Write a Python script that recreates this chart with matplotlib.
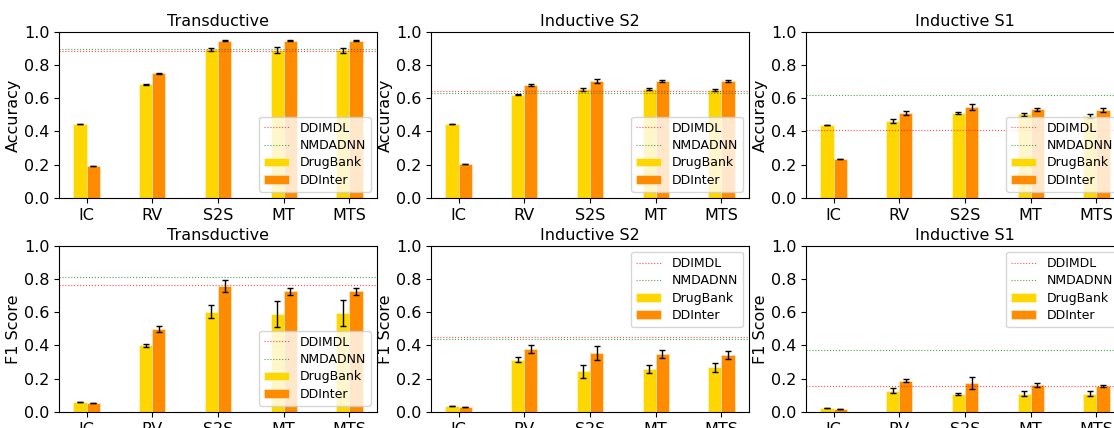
import numpy as np
import matplotlib
matplotlib.use("Agg")
import matplotlib.pyplot as plt

# categories and settings
methods = ["IC", "RV", "S2S", "MT", "MTS"]
settings = ["Transductive", "Inductive S2", "Inductive S1"]

# accuracy (mean, std) per setting
acc_drugbank = [
    [0.446, 0.684, 0.894, 0.889, 0.889],
    [0.444, 0.622, 0.654, 0.656, 0.650],
    [0.436, 0.462, 0.514, 0.504, 0.492],
]
acc_drugbank_err = [
    [0.0, 0.002, 0.008, 0.016, 0.015],
    [0.0, 0.005, 0.008, 0.007, 0.007],
    [0.0, 0.012, 0.006, 0.010, 0.012],
]
acc_ddinter = [
    [0.194, 0.750, 0.946, 0.946, 0.946],
    [0.206, 0.678, 0.704, 0.704, 0.704],
    [0.236, 0.514, 0.548, 0.534, 0.530],
]
acc_ddinter_err = [
    [0.0, 0.002, 0.004, 0.002, 0.002],
    [0.0, 0.005, 0.012, 0.007, 0.007],
    [0.0, 0.012, 0.018, 0.010, 0.010],
]
acc_ddimdl = [0.884, 0.644, 0.406]
acc_nmdadnn = [0.898, 0.630, 0.618]

# F1 score (mean, std) per setting
f1_drugbank = [
    [0.058, 0.400, 0.604, 0.590, 0.594],
    [0.038, 0.314, 0.244, 0.260, 0.268],
    [0.026, 0.128, 0.108, 0.110, 0.110],
]
f1_drugbank_err = [
    [0.0, 0.008, 0.040, 0.080, 0.078],
    [0.0, 0.016, 0.040, 0.025, 0.028],
    [0.0, 0.016, 0.005, 0.015, 0.014],
]
f1_ddinter = [
    [0.052, 0.497, 0.759, 0.726, 0.726],
    [0.032, 0.378, 0.352, 0.348, 0.344],
    [0.020, 0.188, 0.176, 0.160, 0.156],
]
f1_ddinter_err = [
    [0.0, 0.018, 0.035, 0.020, 0.020],
    [0.0, 0.025, 0.042, 0.025, 0.025],
    [0.0, 0.010, 0.035, 0.012, 0.008],
]
f1_ddimdl = [0.761, 0.449, 0.156]
f1_nmdadnn = [0.809, 0.437, 0.370]

rows = [
    ("Accuracy", acc_drugbank, acc_drugbank_err, acc_ddinter, acc_ddinter_err, acc_ddimdl, acc_nmdadnn,
     ["lower right", "lower right", "lower right"]),
    ("F1 Score", f1_drugbank, f1_drugbank_err, f1_ddinter, f1_ddinter_err, f1_ddimdl, f1_nmdadnn,
     ["lower right", "upper right", "upper right"]),
]

fig = plt.figure(figsize=(11.14, 4.28), dpi=100)
W, H = 1114, 428
lefts = [59, 431, 806]
axw = 318
tops = [31.7, 245.7]
axh = 166.3

x = np.arange(len(methods))
bw = 0.2
edge = (1, 1, 1, 0.45)
ekw = dict(elinewidth=1, ecolor="black", capthick=1)

for r, (ylab, db, dbe, di, die, ddimdl, nmdadnn, locs) in enumerate(rows):
    for c in range(3):
        ax = fig.add_axes([lefts[c] / W, 1 - (tops[r] + axh) / H, axw / W, axh / H])
        ax.bar(x - bw / 2, db[c], bw, yerr=dbe[c], color="#FFD700", edgecolor=edge, linewidth=0.6,
               capsize=2.5, error_kw=ekw, label="DrugBank")
        ax.bar(x + bw / 2, di[c], bw, yerr=die[c], color="#FF8C00", edgecolor=edge, linewidth=0.6,
               capsize=2.5, error_kw=ekw, label="DDInter")
        ax.axhline(ddimdl[c], color="red", linestyle=":", linewidth=0.8, alpha=0.7, label="DDIMDL")
        ax.axhline(nmdadnn[c], color="green", linestyle=":", linewidth=0.8, alpha=0.7, label="NMDADNN")
        ax.set_ylim(0, 1.0)
        ax.set_yticks([0, 0.2, 0.4, 0.6, 0.8, 1.0])
        ax.set_xticks(x)
        ax.set_xticklabels(methods)
        ax.tick_params(labelsize=11.5)
        ax.set_ylabel(ylab, fontsize=11.5, labelpad=2)
        ax.set_title(settings[c], fontsize=11.5, pad=4)
        h, l = ax.get_legend_handles_labels()
        order = [l.index(n) for n in ["DDIMDL", "NMDADNN", "DrugBank", "DDInter"]]
        ax.legend([h[i] for i in order], [l[i] for i in order], loc=locs[c], fontsize=9,
                  labelspacing=0.35)

fig.savefig("out.png", dpi=100)
